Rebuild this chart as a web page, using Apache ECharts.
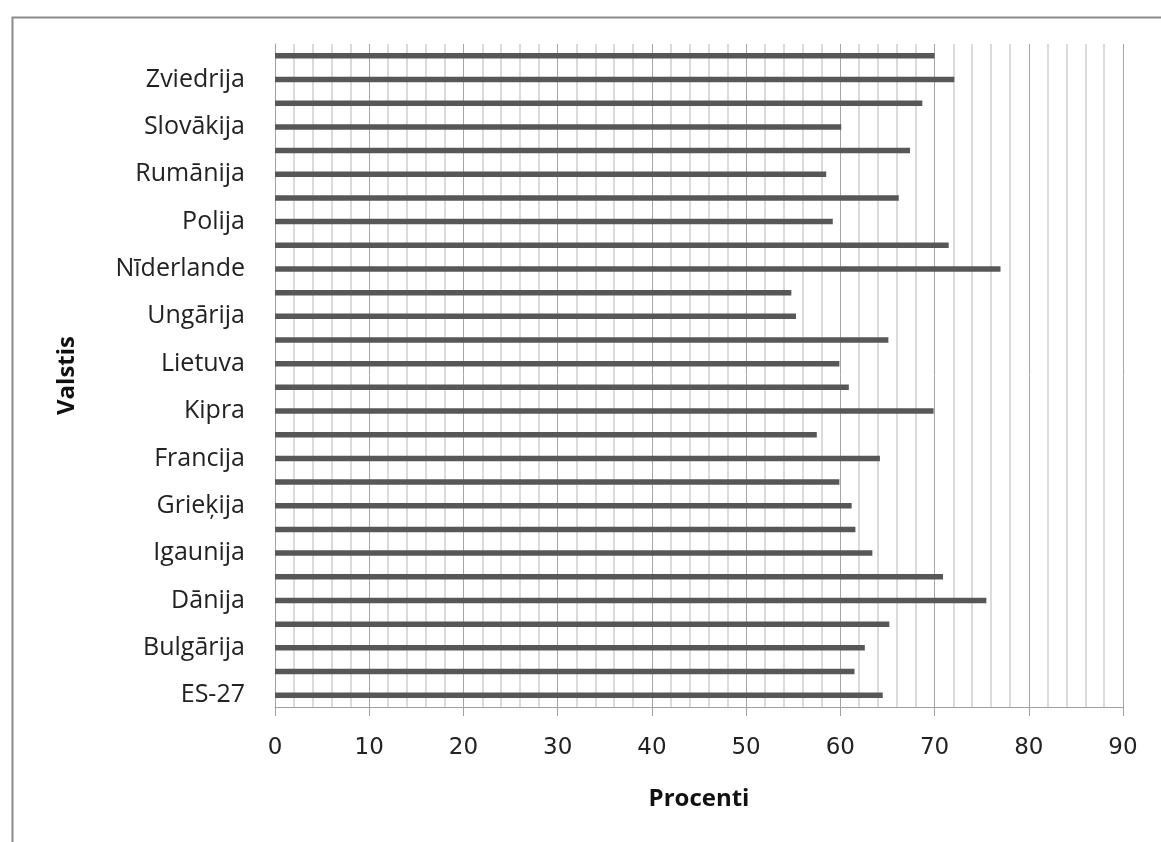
<!DOCTYPE html>
<html>
<head>
<meta charset="utf-8">
<script src="https://cdn.jsdelivr.net/npm/echarts@6/dist/echarts.min.js"></script>
<style>
html,body{margin:0;padding:0;background:#fff;}
#chart{width:1161px;height:842px;}
</style>
</head>
<body>
<div id="chart"></div>
<script>
// Categories from bottom to top
const countries = [
  'ES-27','Beļģija','Bulgārija','Čehija','Dānija','Vācija','Igaunija','Īrija',
  'Grieķija','Spānija','Francija','Itālija','Kipra','Latvija','Lietuva','Luksemburga',
  'Ungārija','Malta','Nīderlande','Austrija','Polija','Portugāle','Rumānija','Slovēnija',
  'Slovākija','Somija','Zviedrija','Apvienotā Karaliste'
];
const percentValues = [
  64.5, 61.5, 62.6, 65.2, 75.5, 70.9, 63.4, 61.6,
  61.2, 59.9, 64.2, 57.5, 69.9, 60.9, 59.9, 65.1,
  55.3, 54.8, 77.0, 71.5, 59.2, 66.2, 58.5, 67.4,
  60.1, 68.7, 72.1, 70.0
];
const xAxisTitle = 'Procenti';
const yAxisTitle = 'Valstis';

const chart = echarts.init(document.getElementById('chart'), null, {renderer: 'canvas'});
chart.setOption({
  backgroundColor: '#ffffff',
  animation: false,
  graphic: [{
    type: 'rect',
    left: 10, top: 15,
    shape: {width: 1300, height: 1000},
    style: {fill: 'none', stroke: '#8c8c8c', lineWidth: 2},
    z: -1
  }],
  grid: {left: 275, right: 38, top: 44, bottom: 135, containLabel: false},
  xAxis: {
    type: 'value',
    min: 0, max: 90, interval: 10,
    name: xAxisTitle,
    nameLocation: 'middle',
    nameGap: 80,
    nameTextStyle: {fontFamily: 'Open Sans', fontWeight: 'bold', fontSize: 24, color: '#111'},
    axisLine: {show: true, lineStyle: {color: '#a0a0a0', width: 1}},
    axisTick: {show: true, length: 9, lineStyle: {color: '#a0a0a0'}},
    axisLabel: {margin: 30, fontFamily: 'DejaVu Sans', fontSize: 23, color: '#222'},
    splitLine: {show: true, lineStyle: {color: '#a6a6a6', width: 1}},
    minorTick: {show: false, splitNumber: 5},
    minorSplitLine: {show: true, lineStyle: {color: '#cfcfcf', width: 1.5}}
  },
  yAxis: {
    type: 'category',
    data: countries,
    name: yAxisTitle,
    nameLocation: 'middle',
    nameGap: 196,
    nameRotate: 90,
    nameTextStyle: {fontFamily: 'Open Sans', fontWeight: 'bold', fontSize: 24, color: '#111'},
    axisLine: {show: true, lineStyle: {color: '#a0a0a0', width: 1}},
    axisTick: {show: false},
    axisLabel: {interval: 1, margin: 30, fontFamily: 'Open Sans', fontSize: 25, color: '#222'},
    splitLine: {show: false}
  },
  series: [{
    type: 'bar',
    data: percentValues,
    barWidth: 5.5,
    itemStyle: {color: '#575757'},
    silent: true
  }]
});
</script>
</body>
</html>
